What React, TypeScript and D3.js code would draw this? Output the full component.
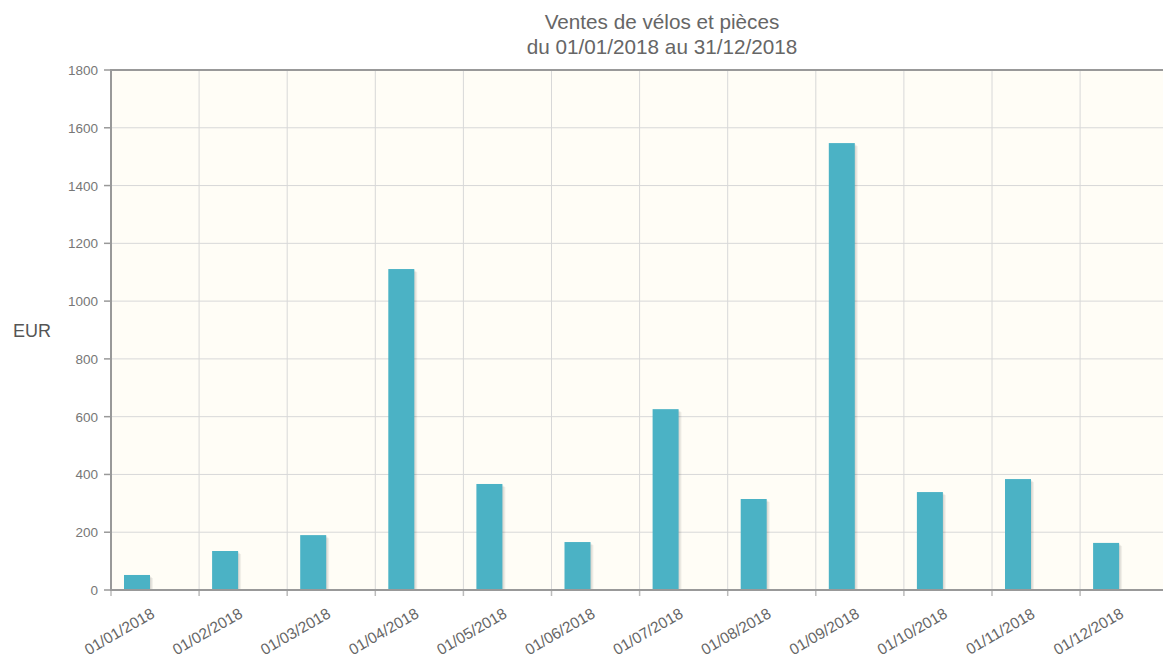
import React, { useEffect, useRef } from "react";
import * as d3 from "d3";

// ---- data ----
const months = [
  "01/01/2018", "01/02/2018", "01/03/2018", "01/04/2018", "01/05/2018", "01/06/2018",
  "01/07/2018", "01/08/2018", "01/09/2018", "01/10/2018", "01/11/2018", "01/12/2018",
];
const sales = [52, 135, 190, 1111, 367, 166, 626, 315, 1547, 339, 384, 163];
const yTicks = [0, 200, 400, 600, 800, 1000, 1200, 1400, 1600, 1800];
const titleLines = ["Ventes de vélos et pièces", "du 01/01/2018 au 31/12/2018"];
const yLabel = "EUR";

const FONT = "'Liberation Sans', Arial, sans-serif";

function App() {
  const ref = useRef<SVGSVGElement>(null);

  useEffect(() => {
    const svg = d3.select(ref.current);
    svg.selectAll("*").remove();

    const height = 659;
    const margin = { top: 70, left: 111, bottom: 69 };
    const band = 88.1;
    const plotW = band * months.length;
    const plotH = height - margin.top - margin.bottom;

    const x = d3.scaleBand().domain(months).range([0, plotW]).padding(0);
    const y = d3.scaleLinear().domain([0, 1800]).range([plotH, 0]);

    // title
    svg.append("g")
      .selectAll("text")
      .data(titleLines)
      .join("text")
      .attr("x", 662)
      .attr("y", (d, i) => 29 + i * 25)
      .attr("text-anchor", "middle")
      .text((d) => d)
      .style("font-family", FONT)
      .style("font-size", "20.7px")
      .attr("fill", "#666");

    svg.append("text")
      .attr("x", 13)
      .attr("y", 337)
      .text(yLabel)
      .style("font-family", FONT)
      .style("font-size", "18px")
      .attr("fill", "#555");

    const bounds = svg.append("g")
      .attr("transform", `translate(${margin.left},${margin.top})`);

    // background
    bounds.append("rect")
      .attr("width", plotW)
      .attr("height", plotH)
      .attr("fill", "#fffdf6");

    // grid
    bounds.append("g")
      .selectAll("line")
      .data(yTicks.slice(1, -1))
      .join("line")
      .attr("x1", 0).attr("x2", plotW)
      .attr("y1", (d) => y(d)).attr("y2", (d) => y(d))
      .attr("stroke", "#d8d8d8").attr("stroke-width", 1);

    bounds.append("g")
      .selectAll("line")
      .data(months.slice(1))
      .join("line")
      .attr("x1", (d) => x(d)!).attr("x2", (d) => x(d)!)
      .attr("y1", 0).attr("y2", plotH)
      .attr("stroke", "#d8d8d8").attr("stroke-width", 1);

    // bar shadows
    const barOff = 13;
    const barW = 26;
    const shadows = bounds.append("g");
    [1, 2, 3].forEach((k) => {
      shadows.selectAll(`rect.s${k}`)
        .data(sales)
        .join("rect")
        .attr("class", `s${k}`)
        .attr("x", (d, i) => x(months[i])! + barOff + k)
        .attr("y", (d) => y(d) + k)
        .attr("width", barW)
        .attr("height", (d) => Math.max(0, plotH - y(d) - k))
        .attr("fill", "#000")
        .attr("opacity", 0.05);
    });

    // bars
    bounds.append("g")
      .selectAll("rect")
      .data(sales)
      .join("rect")
      .attr("x", (d, i) => x(months[i])! + barOff)
      .attr("y", (d) => y(d))
      .attr("width", barW)
      .attr("height", (d) => plotH - y(d))
      .attr("fill", "#4bb2c5");

    // border
    bounds.append("line")
      .attr("x1", 0).attr("x2", plotW).attr("y1", 0).attr("y2", 0)
      .attr("stroke", "#999").attr("stroke-width", 2);
    bounds.append("line")
      .attr("x1", 0).attr("x2", plotW).attr("y1", plotH).attr("y2", plotH)
      .attr("stroke", "#999").attr("stroke-width", 2);
    bounds.append("line")
      .attr("x1", 0).attr("x2", 0).attr("y1", -1).attr("y2", plotH + 1)
      .attr("stroke", "#999").attr("stroke-width", 2);

    // y axis ticks
    const yAxis = bounds.append("g");
    yAxis.selectAll("line")
      .data(yTicks)
      .join("line")
      .attr("x1", -7).attr("x2", -1)
      .attr("y1", (d) => y(d)).attr("y2", (d) => y(d))
      .attr("stroke", "#999").attr("stroke-width", 1.5);
    yAxis.selectAll("text")
      .data(yTicks)
      .join("text")
      .attr("x", -13)
      .attr("y", (d) => y(d) + 5)
      .attr("text-anchor", "end")
      .text((d) => d)
      .style("font-family", FONT)
      .style("font-size", "13.5px")
      .attr("fill", "#777");

    // x axis ticks
    const xAxis = bounds.append("g").attr("transform", `translate(0,${plotH})`);
    xAxis.selectAll("line")
      .data(months)
      .join("line")
      .attr("x1", (d) => x(d)!).attr("x2", (d) => x(d)!)
      .attr("y1", 1).attr("y2", 6)
      .attr("stroke", "#bbb").attr("stroke-width", 1.5);
    xAxis.selectAll("text")
      .data(months)
      .join("text")
      .attr("transform", (d) => `translate(${x(d)! + 11},${46}) rotate(-30)`)
      .attr("text-anchor", "middle")
      .text((d) => d)
      .style("font-family", FONT)
      .style("font-size", "15.5px")
      .attr("fill", "#666");
  }, []);

  return (
    <div style={{ position: "absolute", left: 0, top: 0 }}>
      <svg ref={ref} width={1163} height={659} style={{ display: "block" }} />
    </div>
  );
}

export default App;
